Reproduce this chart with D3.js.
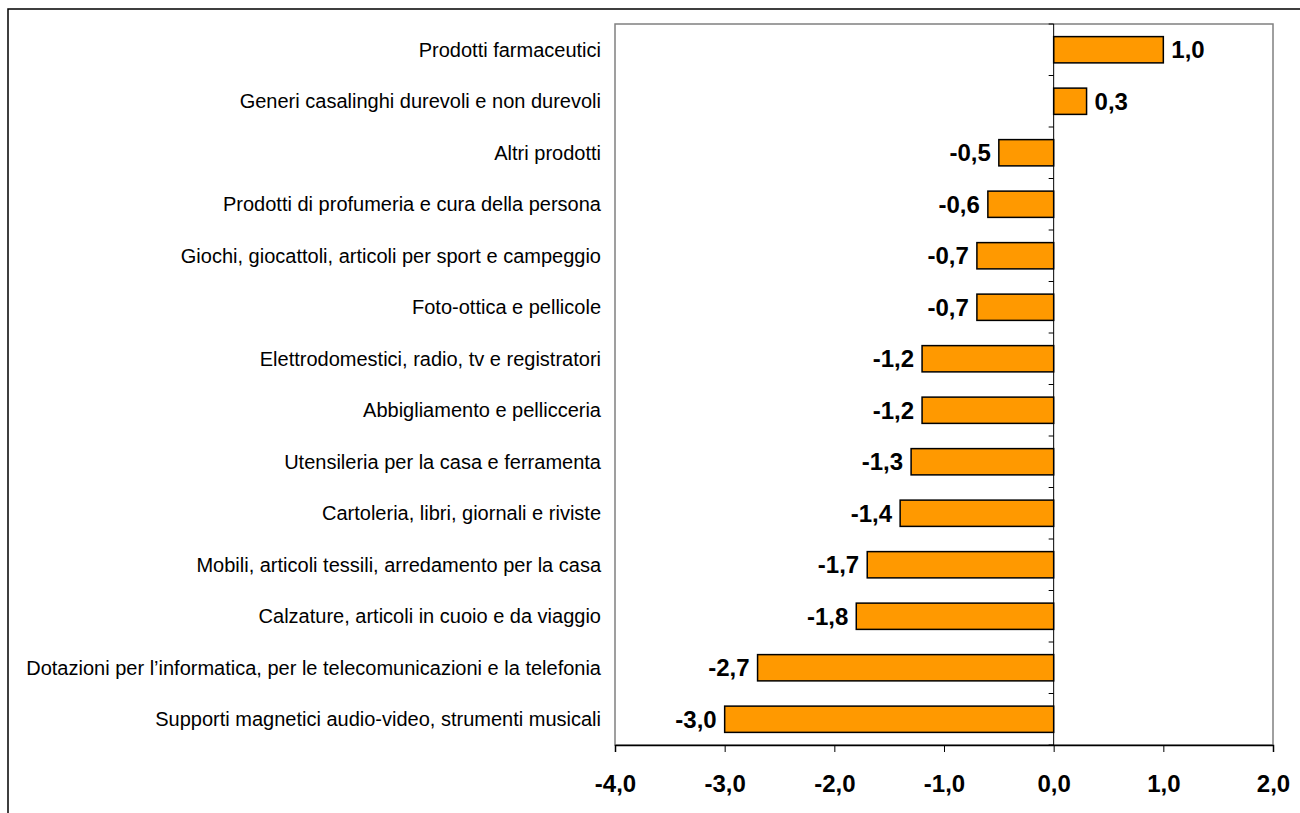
<!DOCTYPE html>
<html>
<head>
<meta charset="utf-8">
<script src="https://cdn.jsdelivr.net/npm/d3@7/dist/d3.min.js"></script>
<style>
  html, body { margin: 0; padding: 0; background: #fff; overflow: hidden; }
  svg { display: block; }
</style>
</head>
<body>
<svg id="chart" width="1300" height="813"></svg>
<script>
const categories = [
  "Prodotti farmaceutici",
  "Generi casalinghi durevoli e non durevoli",
  "Altri prodotti",
  "Prodotti di profumeria e cura della persona",
  "Giochi, giocattoli, articoli per sport e campeggio",
  "Foto-ottica e pellicole",
  "Elettrodomestici, radio, tv e registratori",
  "Abbigliamento e pellicceria",
  "Utensileria per la casa e ferramenta",
  "Cartoleria, libri, giornali e riviste",
  "Mobili, articoli tessili, arredamento per la casa",
  "Calzature, articoli in cuoio e da viaggio",
  "Dotazioni per l\u2019informatica, per le telecomunicazioni e la telefonia",
  "Supporti magnetici audio-video, strumenti musicali"
];
const values = [1.0, 0.3, -0.5, -0.6, -0.7, -0.7, -1.2, -1.2, -1.3, -1.4, -1.7, -1.8, -2.7, -3.0];
const xTicks = [-4, -3, -2, -1, 0, 1, 2];

const fmt = v => v.toFixed(1).replace(".", ",");

const svg = d3.select("#chart");
const pLeft = 615, pRight = 1273, pTop = 24, pBottom = 745;

// outer frame
svg.append("rect").attr("x", 8).attr("y", 9).attr("width", 1400).attr("height", 900)
  .attr("fill", "none").attr("stroke", "#000").attr("stroke-width", 1.5);

const x = d3.scaleLinear().domain([-4, 2]).range([pLeft, pRight]);
const y = d3.scaleBand().domain(categories).range([pTop, pBottom]).paddingInner(0.49).paddingOuter(0.245);

// plot area border
svg.append("rect").attr("x", pLeft).attr("y", pTop).attr("width", pRight - pLeft).attr("height", pBottom - pTop)
  .attr("fill", "#fff").attr("stroke", "#808080").attr("stroke-width", 1.5);

// bars
svg.append("g").selectAll("rect").data(values).join("rect")
  .attr("x", d => x(Math.min(0, d)))
  .attr("y", (d, i) => y(categories[i]))
  .attr("width", d => Math.abs(x(d) - x(0)))
  .attr("height", y.bandwidth())
  .attr("fill", "#FF9900").attr("stroke", "#000").attr("stroke-width", 1.5);

// category axis at zero (ticks at band boundaries, no labels)
const boundaries = d3.range(categories.length + 1).map(i => pTop + i * (pBottom - pTop) / categories.length);
const yAxisG = svg.append("g");
yAxisG.append("line").attr("x1", x(0)).attr("x2", x(0)).attr("y1", pTop).attr("y2", pBottom)
  .attr("stroke", "#000").attr("stroke-width", 1);
yAxisG.selectAll("line.t").data(boundaries).join("line").attr("class", "t")
  .attr("x1", x(0) - 5).attr("x2", x(0)).attr("y1", d => d).attr("y2", d => d)
  .attr("stroke", "#000").attr("stroke-width", 1);

// category labels
svg.append("g").selectAll("text").data(categories).join("text")
  .attr("x", 601)
  .attr("y", d => y(d) + y.bandwidth() / 2)
  .attr("dy", "0.35em")
  .attr("text-anchor", "end")
  .attr("font-family", "Liberation Sans, Arial, sans-serif")
  .attr("font-size", 20)
  .attr("fill", "#000")
  .text(d => d);

// value labels
svg.append("g").selectAll("text").data(values).join("text")
  .attr("x", d => d >= 0 ? x(d) + 8 : x(d) - 8)
  .attr("y", (d, i) => y(categories[i]) + y.bandwidth() / 2)
  .attr("dy", "0.36em")
  .attr("text-anchor", d => d >= 0 ? "start" : "end")
  .attr("font-family", "Liberation Sans, Arial, sans-serif")
  .attr("font-weight", "bold")
  .attr("font-size", 24)
  .attr("fill", "#000")
  .text(d => fmt(d));

// x axis
const xAxis = d3.axisBottom(x).tickValues(xTicks).tickFormat(fmt).tickSize(7).tickPadding(23);
const xg = svg.append("g").attr("transform", `translate(0,${pBottom})`).call(xAxis);
xg.select(".domain").attr("stroke", "#000").attr("stroke-width", 1.5);
xg.selectAll(".tick line").attr("stroke", "#000").attr("stroke-width", 1);
xg.selectAll(".tick text")
  .attr("font-family", "Liberation Sans, Arial, sans-serif")
  .attr("font-weight", "bold")
  .attr("font-size", 24)
  .attr("fill", "#000");
</script>
</body>
</html>
